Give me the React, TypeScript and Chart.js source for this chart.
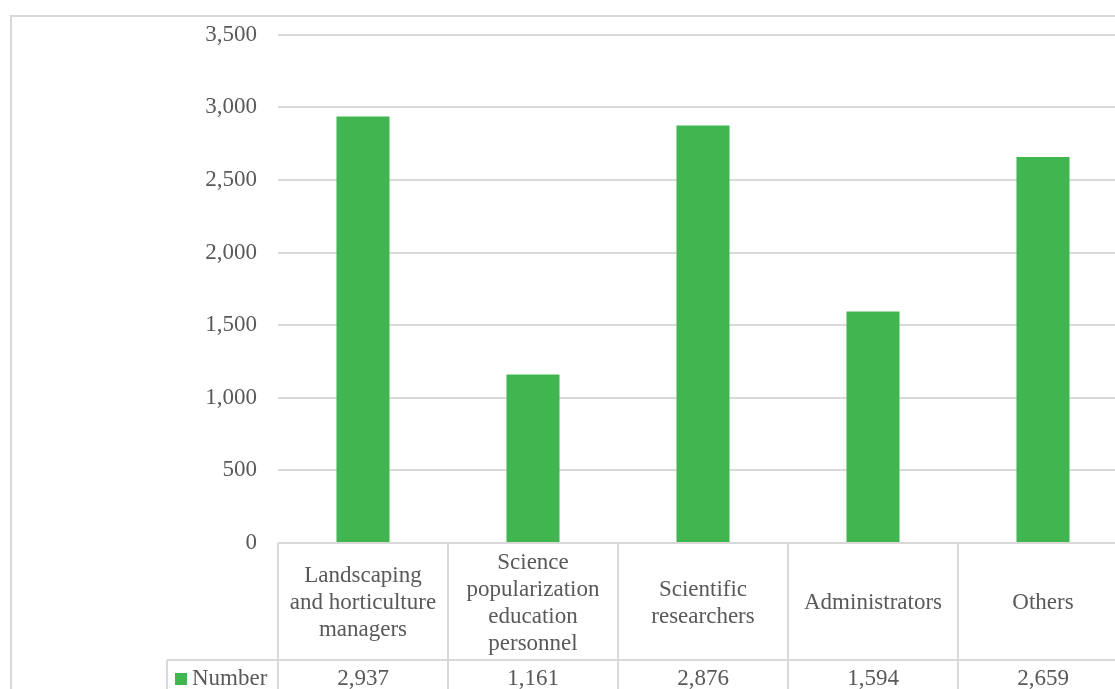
import React, { useEffect, useRef } from "react";
import { Chart, registerables } from "chart.js";

Chart.register(...registerables);

// Staff categories (pre-wrapped the way they appear in the data table header)
const categories: string[][] = [
  ["Landscaping", "and horticulture", "managers"],
  ["Science", "popularization", "education", "personnel"],
  ["Scientific", "researchers"],
  ["Administrators"],
  ["Others"],
];
const seriesName = "Number";
const seriesValues: number[] = [2937, 1161, 2876, 1594, 2659];

// Value axis
const yMin = 0;
const yMax = 3500;
const yStep = 500;

const BAR_COLOR = "#40b550";
const GRID_COLOR = "#d9d9d9";
const TEXT_COLOR = "#595959";
const FONT_FAMILY = "'Liberation Serif', 'Times New Roman', serif";
const FONT_SIZE = 23;

const fmt = (v: number) => v.toLocaleString("en-US");

// Outer chart frame (light grey border around the whole chart)
const framePlugin = {
  id: "frame",
  beforeDraw(chart: any) {
    const ctx = chart.ctx;
    ctx.save();
    ctx.fillStyle = "#ffffff";
    ctx.fillRect(0, 0, chart.width, chart.height);
    ctx.strokeStyle = GRID_COLOR;
    ctx.lineWidth = 2;
    ctx.strokeRect(11, 16, chart.width + 50, chart.height + 50);
    ctx.restore();
  },
};

// Data table under the plot: category header row and a value row with legend key
const dataTablePlugin = {
  id: "dataTable",
  afterDraw(chart: any) {
    const ctx = chart.ctx;
    const area = chart.chartArea;
    const xs = chart.scales.x;
    const n = categories.length;
    const cellW = (area.right - area.left) / n;
    const headerTop = area.bottom;
    const headerBottom = headerTop + 117;
    const rowBottom = headerBottom + 40;
    const keyLeft = 167;
    const bottom = chart.height + 10;

    ctx.save();
    ctx.strokeStyle = GRID_COLOR;
    ctx.lineWidth = 2;

    // horizontal rules
    ctx.beginPath();
    ctx.moveTo(area.left, headerTop);
    ctx.lineTo(chart.width + 10, headerTop);
    ctx.moveTo(keyLeft, headerBottom);
    ctx.lineTo(chart.width + 10, headerBottom);
    ctx.moveTo(keyLeft, rowBottom);
    ctx.lineTo(chart.width + 10, rowBottom);
    ctx.stroke();

    // vertical rules
    ctx.beginPath();
    for (let i = 0; i <= n; i++) {
      const x = Math.round(area.left + i * cellW);
      ctx.moveTo(x, headerTop);
      ctx.lineTo(x, bottom);
    }
    ctx.moveTo(keyLeft, headerBottom);
    ctx.lineTo(keyLeft, bottom);
    ctx.stroke();

    ctx.fillStyle = TEXT_COLOR;
    ctx.font = `${FONT_SIZE}px ${FONT_FAMILY}`;
    ctx.textAlign = "center";
    ctx.textBaseline = "middle";
    const lineH = 27;
    const headerMid = (headerTop + headerBottom) / 2 + 1.5;
    const rowMid = (headerBottom + rowBottom) / 2 - 1;

    categories.forEach((lines, i) => {
      const cx = xs.getPixelForValue(i);
      const startY = headerMid - ((lines.length - 1) * lineH) / 2;
      lines.forEach((line, j) => {
        ctx.fillText(line, cx, startY + j * lineH);
      });
      ctx.fillText(fmt(seriesValues[i]), cx, rowMid);
    });

    // legend key + series name
    ctx.fillStyle = BAR_COLOR;
    ctx.fillRect(175, rowMid - 6, 12, 12);
    ctx.fillStyle = TEXT_COLOR;
    ctx.textAlign = "left";
    ctx.fillText(seriesName, 192, rowMid);
    ctx.restore();
  },
};

export default function App() {
  const canvasRef = useRef<HTMLCanvasElement | null>(null);

  useEffect(() => {
    if (!canvasRef.current) return;
    const chart = new Chart(canvasRef.current, {
      type: "bar",
      data: {
        labels: categories.map((c) => c.join(" ")),
        datasets: [
          {
            label: seriesName,
            data: seriesValues,
            backgroundColor: BAR_COLOR,
            borderWidth: 0,
            barPercentage: 0.312,
            categoryPercentage: 1,
          },
        ],
      },
      options: {
        responsive: false,
        animation: false,
        devicePixelRatio: 1,
        layout: { padding: { left: 0, right: 12, top: 33, bottom: 177 } },
        plugins: {
          legend: { display: false },
          tooltip: { enabled: false },
          title: { display: false },
        },
        scales: {
          x: {
            display: false,
          },
          y: {
            min: yMin,
            max: yMax,
            ticks: {
              stepSize: yStep,
              padding: 21,
              color: TEXT_COLOR,
              font: { family: FONT_FAMILY, size: FONT_SIZE },
              callback: (v: any) => fmt(Number(v)),
            },
            grid: {
              color: GRID_COLOR,
              lineWidth: 2,
              drawTicks: false,
            },
            border: { display: false },
            afterFit: (scale: any) => {
              scale.width = 278;
            },
          },
        },
      },
      plugins: [framePlugin, dataTablePlugin],
    });
    return () => chart.destroy();
  }, []);

  return (
    <div
      style={{
        position: "fixed",
        left: 0,
        top: 0,
        width: 1115,
        height: 689,
        overflow: "hidden",
        background: "#ffffff",
      }}
    >
      <canvas
        ref={canvasRef}
        width={1140}
        height={720}
        style={{ position: "absolute", left: 0, top: 0, width: 1140, height: 720 }}
      />
    </div>
  );
}
